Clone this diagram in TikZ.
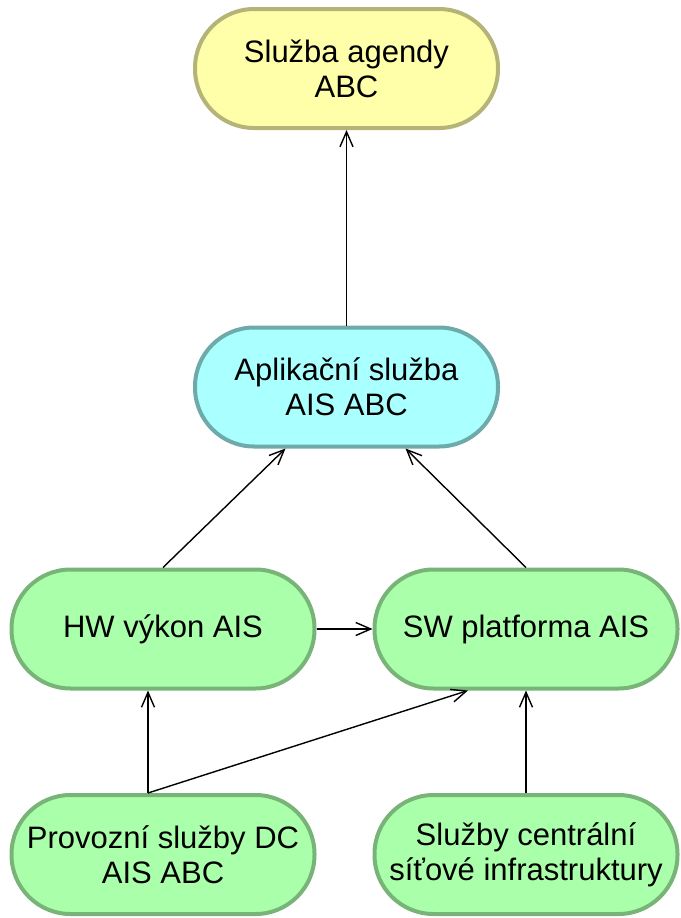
\documentclass[tikz,border=0pt]{standalone}
\usepackage{fontspec}
\setmainfont{Liberation Sans}
\usetikzlibrary{arrows.meta}
\definecolor{yfill}{HTML}{FFFFAA}
\definecolor{ydraw}{HTML}{B4B478}
\definecolor{cfill}{HTML}{AAFFFF}
\definecolor{cdraw}{HTML}{6EAAAA}
\definecolor{gfill}{HTML}{AAFFAA}
\definecolor{gdraw}{HTML}{78B478}
\tikzset{
  svc/.style={draw, line width=4pt, rounded corners=59pt, minimum width=303pt,
    minimum height=119pt, inner sep=0pt, align=center,
    font=\fontsize{31}{35}\selectfont},
  yel/.style={svc, fill=yfill, draw=ydraw},
  cya/.style={svc, fill=cfill, draw=cdraw},
  gre/.style={svc, fill=gfill, draw=gdraw},
  conn/.style={draw=black, line width=1.4pt, -{Straight Barb[length=15pt,width=13pt,line width=1.4pt]}}
}
\begin{document}
\begin{tikzpicture}[x=1pt,y=-1pt]
\useasboundingbox (0,0) rectangle (680,918);
\node[yel] (top) at (346.5,68.5) {Služba agendy\\ABC};
\node[cya] (mid) at (346.5,387) {Aplikační služba\\AIS ABC};
\node[gre] (hw) at (163,629) {HW výkon AIS};
\node[gre] (sw) at (526,629) {SW platforma AIS};
\node[gre] (prov) at (163,854.5) {Provozní služby DC\\AIS ABC};
\node[gre] (sit) at (526,854.5) {Služby centrální\\síťové infrastruktury};
\draw[conn] (mid.north) -- (top.south);
\draw[conn] (hw.north) -- ([xshift=-61pt]mid.south);
\draw[conn] (sw.north) -- ([xshift=59pt]mid.south);
\draw[conn] (hw.east) -- (sw.west);
\draw[conn] ([xshift=-15pt]prov.north) -- ([xshift=-15pt]hw.south);
\draw[conn] ([xshift=-15pt]prov.north) -- ([xshift=-58pt]sw.south);
\draw[conn] (sit.north) -- (sw.south);
\end{tikzpicture}
\end{document}
